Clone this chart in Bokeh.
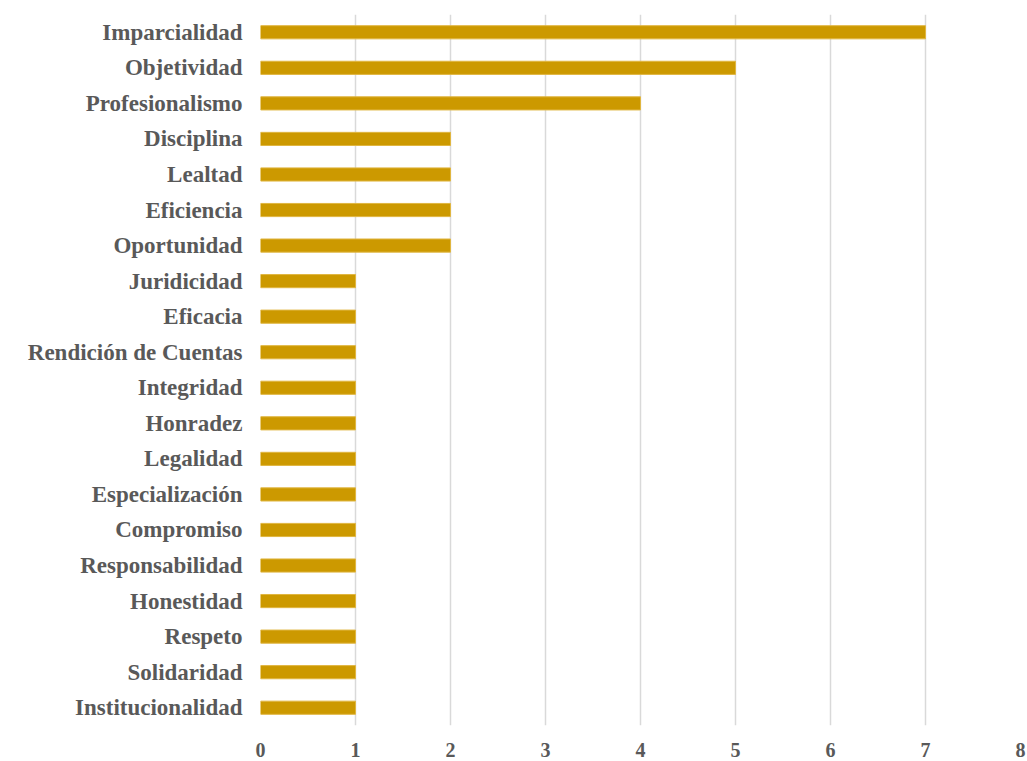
from bokeh.plotting import figure
from bokeh.models import FactorRange, Range1d, FixedTicker, ColumnDataSource
from bokeh.embed import file_html
from bokeh.resources import INLINE

categories = ["Imparcialidad", "Objetividad", "Profesionalismo", "Disciplina", "Lealtad",
              "Eficiencia", "Oportunidad", "Juridicidad", "Eficacia", "Rendición de Cuentas",
              "Integridad", "Honradez", "Legalidad", "Especialización", "Compromiso",
              "Responsabilidad", "Honestidad", "Respeto", "Solidaridad", "Institucionalidad"]
values = [7, 5, 4, 2, 2, 2, 2, 1, 1, 1, 1, 1, 1, 1, 1, 1, 1, 1, 1, 1]
x_ticks = [0, 1, 2, 3, 4, 5, 6, 7, 8]

source = ColumnDataSource(data=dict(cat=categories, val=values))

p = figure(width=1027, height=761, output_backend="svg", toolbar_location=None,
           y_range=FactorRange(factors=list(reversed(categories))),
           x_range=Range1d(0, 8))
p.min_border_left = 260
p.min_border_right = 7
p.min_border_top = 14
p.min_border_bottom = 36
p.outline_line_color = None

p.hbar(y="cat", left=0, right="val", height=0.37, source=source,
       fill_color="#CC9900", line_color="#E0B640", line_width=1)

font = "Liberation Serif"
p.xaxis.ticker = FixedTicker(ticks=x_ticks)
p.xaxis.axis_line_color = None
p.xaxis.major_tick_line_color = None
p.xaxis.minor_tick_line_color = None
p.xaxis.major_label_standoff = 11
p.xaxis.major_label_text_font = font
p.xaxis.major_label_text_font_style = "bold"
p.xaxis.major_label_text_font_size = "20px"
p.xaxis.major_label_text_color = "#595959"

p.yaxis.axis_line_color = None
p.yaxis.major_tick_line_color = None
p.yaxis.minor_tick_line_color = None
p.yaxis.major_label_standoff = 12
p.yaxis.major_label_text_font = font
p.yaxis.major_label_text_font_style = "bold"
p.yaxis.major_label_text_font_size = "23px"
p.yaxis.major_label_text_color = "#595959"

p.ygrid.grid_line_color = None
p.xgrid.ticker = FixedTicker(ticks=x_ticks[1:])
p.xgrid.grid_line_color = "#D9D9D9"
p.xgrid.grid_line_width = 1.5

open("out.html", "w").write(file_html(p, INLINE))
